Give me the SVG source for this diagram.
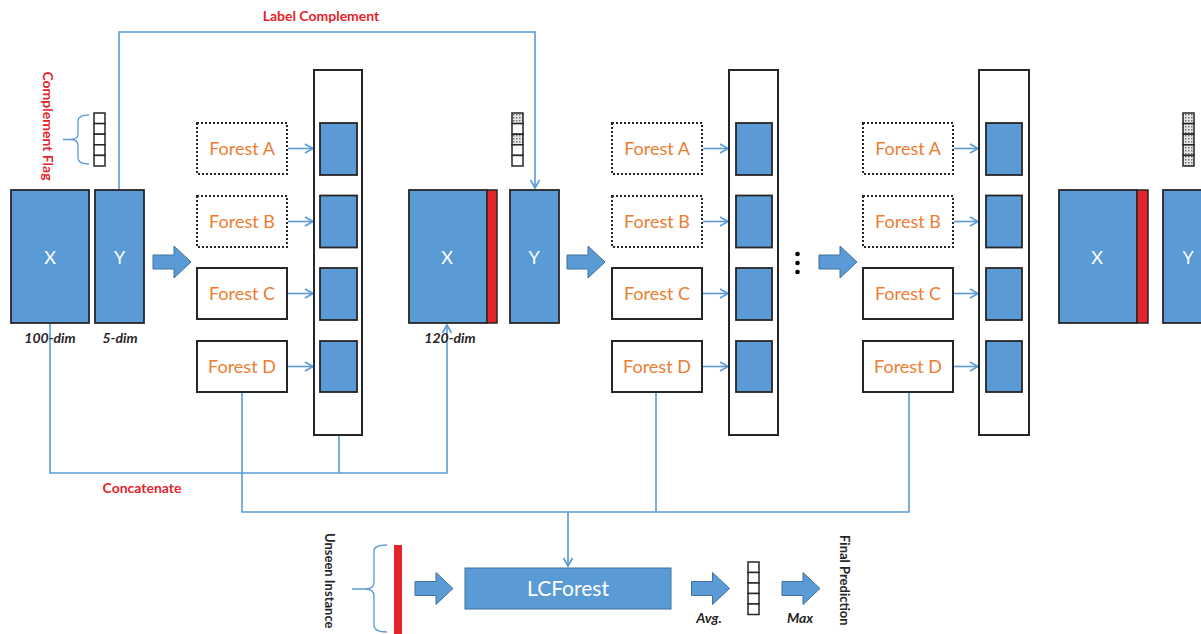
<svg xmlns="http://www.w3.org/2000/svg" width="1201" height="634" viewBox="0 0 1201 634">
<style>
.blk{fill:#5b9bd5;stroke:#262626;stroke-width:1.8}
.red{fill:#e3242b;stroke:#262626;stroke-width:1.5}
.fbox{fill:#fff;stroke:#262626;stroke-width:2}
.fdot{fill:#fff;stroke:#262626;stroke-width:2;stroke-dasharray:2 2}
.col{fill:#fff;stroke:#262626;stroke-width:2}
.ftxt{font-family:Lato,"Open Sans",sans-serif;font-size:18px;fill:#ed7d31;text-anchor:middle}
.wtxt{font-family:Lato,"Open Sans",sans-serif;font-size:18px;fill:#fff;text-anchor:middle}
.rlab{font-family:Lato,"Open Sans",sans-serif;font-size:14px;font-weight:bold;fill:#e3242b;text-anchor:middle}
.dlab{font-family:Lato,"Open Sans",sans-serif;font-size:14px;font-weight:bold;font-style:italic;fill:#262626;text-anchor:middle}
.vlab{font-family:Lato,"Open Sans",sans-serif;font-size:13px;font-weight:bold;fill:#262626}
.con{fill:none;stroke:#5b9bd5;stroke-width:1.6}
.fat{fill:#5b9bd5;stroke:#41719c;stroke-width:1}
.cell{fill:#fff;stroke:#262626;stroke-width:1.5}
.pcell{fill:url(#dots);stroke:#262626;stroke-width:1.5}
.brace{fill:none;stroke:#5b9bd5;stroke-width:1.3}
</style>
<defs>
<marker id="ah" markerUnits="userSpaceOnUse" markerWidth="12" markerHeight="12" refX="10" refY="6" orient="auto">
<path d="M2,1.5 L10,6 L2,10.5" fill="none" stroke="#5b9bd5" stroke-width="1.6"/>
</marker>
<pattern id="dots" patternUnits="userSpaceOnUse" width="3" height="3">
<rect width="3" height="3" fill="#e8e8e8"/>
<rect width="1.5" height="1.5" fill="#707070"/>
</pattern>
<path id="fatarrow" d="M0,-7 L21,-7 L21,-16 L38,0 L21,16 L21,7 L0,7 Z"/>
</defs>

<g id="connectors">
<path class="con" d="M119,190 V32 H535 V188" marker-end="url(#ah)"/>
<path class="con" d="M50,323 V473 H447 V325" marker-end="url(#ah)"/>
<path class="con" d="M339,436 V473"/>
<path class="con" d="M242,392 V512 H909 V392"/>
<path class="con" d="M656,392 V512"/>
<path class="con" d="M568,512 V566" marker-end="url(#ah)"/>
<path class="con" d="M288,148.5 H313" marker-end="url(#ah)"/>
<path class="con" d="M288,221.5 H313" marker-end="url(#ah)"/>
<path class="con" d="M288,293.5 H313" marker-end="url(#ah)"/>
<path class="con" d="M288,366.5 H313" marker-end="url(#ah)"/>
<path class="con" d="M703,148.5 H728" marker-end="url(#ah)"/>
<path class="con" d="M703,221.5 H728" marker-end="url(#ah)"/>
<path class="con" d="M703,293.5 H728" marker-end="url(#ah)"/>
<path class="con" d="M703,366.5 H728" marker-end="url(#ah)"/>
<path class="con" d="M954,148.5 H978" marker-end="url(#ah)"/>
<path class="con" d="M954,221.5 H978" marker-end="url(#ah)"/>
<path class="con" d="M954,293.5 H978" marker-end="url(#ah)"/>
<path class="con" d="M954,366.5 H978" marker-end="url(#ah)"/>
</g>

<g id="labels">
<text class="rlab" x="321" y="21">Label Complement</text>
<text class="rlab" x="142" y="493">Concatenate</text>
<text class="rlab" x="0" y="0" transform="translate(43,126) rotate(90)">Complement Flag</text>
<text class="dlab" x="50" y="343">100-dim</text>
<text class="dlab" x="120" y="343">5-dim</text>
<text class="dlab" x="450" y="343">120-dim</text>
</g>

<g id="flag1">
<path class="brace" d="M89,115 Q78,115 78,121 V134 Q78,139.5 70,139.5 H63 H70 Q78,139.5 78,145 V158 Q78,164 89,164"/>
<rect class="cell" x="94" y="113" width="11" height="10.6"/>
<rect class="cell" x="94" y="123.6" width="11" height="10.6"/>
<rect class="cell" x="94" y="134.2" width="11" height="10.6"/>
<rect class="cell" x="94" y="144.8" width="11" height="10.6"/>
<rect class="cell" x="94" y="155.4" width="11" height="10.6"/>
</g>

<g id="data1">
<rect class="blk" x="11" y="190" width="78" height="133"/>
<text class="wtxt" x="50" y="264">X</text>
<rect class="blk" x="95" y="190" width="49" height="133"/>
<text class="wtxt" x="119.5" y="264">Y</text>
</g>

<g id="fat1"><use href="#fatarrow" class="fat" transform="translate(153,262)"/></g>

<g id="stage1">
<rect class="col" x="314" y="70" width="48" height="365"/>
<rect class="blk" x="320" y="123" width="37" height="52"/>
<rect class="blk" x="320" y="195.5" width="37" height="52"/>
<rect class="blk" x="320" y="268" width="37" height="52"/>
<rect class="blk" x="320" y="341" width="37" height="51"/>
<g id="s1A"><rect class="fdot" x="197" y="123" width="90" height="51"/><text class="ftxt" x="242" y="155">Forest A</text></g>
<g id="s1B"><rect class="fdot" x="197" y="196" width="90" height="51"/><text class="ftxt" x="242" y="228">Forest B</text></g>
<g id="s1C"><rect class="fbox" x="197" y="268" width="90" height="51"/><text class="ftxt" x="242" y="300">Forest C</text></g>
<g id="s1D"><rect class="fbox" x="197" y="341" width="90" height="51"/><text class="ftxt" x="242" y="373">Forest D</text></g>
</g>

<g id="flag2">
<rect class="pcell" x="512" y="113" width="11" height="10.6"/>
<rect class="cell" x="512" y="123.6" width="11" height="10.6"/>
<rect class="pcell" x="512" y="134.2" width="11" height="10.6"/>
<rect class="cell" x="512" y="144.8" width="11" height="10.6"/>
<rect class="cell" x="512" y="155.4" width="11" height="10.6"/>
</g>

<g id="data2">
<rect class="blk" x="409" y="190" width="78" height="133"/>
<rect class="red" x="487" y="190" width="10" height="133"/>
<text class="wtxt" x="447" y="264">X</text>
<rect class="blk" x="510" y="190" width="49" height="133"/>
<text class="wtxt" x="534" y="264">Y</text>
</g>

<g id="fat2"><use href="#fatarrow" class="fat" transform="translate(567,262)"/></g>

<g id="stage2">
<rect class="col" x="729" y="70" width="49" height="365"/>
<rect class="blk" x="736" y="123" width="36" height="52"/>
<rect class="blk" x="736" y="195.5" width="36" height="52"/>
<rect class="blk" x="736" y="268" width="36" height="52"/>
<rect class="blk" x="736" y="341" width="36" height="51"/>
<g id="s2A"><rect class="fdot" x="612" y="123" width="90" height="51"/><text class="ftxt" x="657" y="155">Forest A</text></g>
<g id="s2B"><rect class="fdot" x="612" y="196" width="90" height="51"/><text class="ftxt" x="657" y="228">Forest B</text></g>
<g id="s2C"><rect class="fbox" x="612" y="268" width="90" height="51"/><text class="ftxt" x="657" y="300">Forest C</text></g>
<g id="s2D"><rect class="fbox" x="612" y="341" width="90" height="51"/><text class="ftxt" x="657" y="373">Forest D</text></g>
</g>

<g id="ellipsis">
<circle cx="797.5" cy="254" r="2.3" fill="#000"/>
<circle cx="797.5" cy="263" r="2.3" fill="#000"/>
<circle cx="797.5" cy="272" r="2.3" fill="#000"/>
</g>

<g id="fat3"><use href="#fatarrow" class="fat" transform="translate(819,262)"/></g>

<g id="stage3">
<rect class="col" x="979" y="70" width="50" height="365"/>
<rect class="blk" x="986" y="123" width="36" height="52"/>
<rect class="blk" x="986" y="195.5" width="36" height="52"/>
<rect class="blk" x="986" y="268" width="36" height="52"/>
<rect class="blk" x="986" y="341" width="36" height="51"/>
<g id="s3A"><rect class="fdot" x="863" y="123" width="90" height="51"/><text class="ftxt" x="908" y="155">Forest A</text></g>
<g id="s3B"><rect class="fdot" x="863" y="196" width="90" height="51"/><text class="ftxt" x="908" y="228">Forest B</text></g>
<g id="s3C"><rect class="fbox" x="863" y="268" width="90" height="51"/><text class="ftxt" x="908" y="300">Forest C</text></g>
<g id="s3D"><rect class="fbox" x="863" y="341" width="90" height="51"/><text class="ftxt" x="908" y="373">Forest D</text></g>
</g>

<g id="flag3">
<rect class="pcell" x="1183" y="113" width="11" height="10.6"/>
<rect class="pcell" x="1183" y="123.6" width="11" height="10.6"/>
<rect class="pcell" x="1183" y="134.2" width="11" height="10.6"/>
<rect class="pcell" x="1183" y="144.8" width="11" height="10.6"/>
<rect class="pcell" x="1183" y="155.4" width="11" height="10.6"/>
</g>

<g id="data3">
<rect class="blk" x="1059" y="190" width="78" height="133"/>
<rect class="red" x="1137" y="190" width="11" height="133"/>
<text class="wtxt" x="1097" y="264">X</text>
<rect class="blk" x="1163" y="190" width="49" height="133"/>
<text class="wtxt" x="1188" y="264">Y</text>
</g>

<g id="unseen">
<text class="vlab" transform="translate(325,533) rotate(90)">Unseen Instance</text>
<path class="brace" d="M387,545 Q374,545 374,551 V582 Q374,589 365,589 H352 H365 Q374,589 374,596 V625 Q374,632 387,632"/>
<rect x="394" y="545" width="8" height="89" fill="#e3242b"/>
</g>

<g id="fat4"><use href="#fatarrow" class="fat" transform="translate(415,588.5)"/></g>

<g id="lcforest">
<rect x="465" y="568" width="206" height="41" fill="#5b9bd5" stroke="#41719c" stroke-width="1"/>
<text class="wtxt" x="568" y="596" style="font-size:21px">LCForest</text>
</g>

<g id="fat5"><use href="#fatarrow" class="fat" transform="translate(691.5,588.5)"/></g>
<text class="dlab" x="709" y="623">Avg.</text>

<g id="outvec">
<rect class="cell" x="748" y="562" width="11" height="10.5"/>
<rect class="cell" x="748" y="572.5" width="11" height="10.5"/>
<rect class="cell" x="748" y="583" width="11" height="10.5"/>
<rect class="cell" x="748" y="593.5" width="11" height="10.5"/>
<rect class="cell" x="748" y="604" width="11" height="10.5"/>
</g>

<g id="fat6"><use href="#fatarrow" class="fat" transform="translate(782,588.5)"/></g>
<text class="dlab" x="800" y="623">Max</text>

<g id="final">
<text class="vlab" transform="translate(840,535) rotate(90)">Final Prediction</text>
</g>
</svg>
